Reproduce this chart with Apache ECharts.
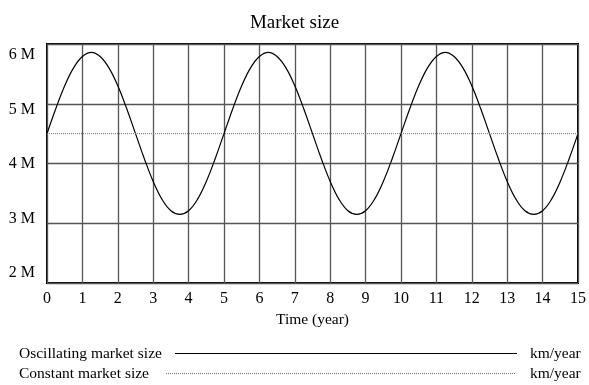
<!DOCTYPE html>
<html><head><meta charset="utf-8">
<script src="https://cdn.jsdelivr.net/npm/echarts@6/dist/echarts.min.js"></script>
<style>html,body{margin:0;padding:0;background:#fff}#c{width:589px;height:385px}</style>
</head><body><div id="c"></div>
<script>
const title = 'Market size';
const xName = 'Time (year)';
const yTicks = [2, 3, 4, 5, 6];
const times = [0,0.25,0.5,0.75,1,1.25,1.5,1.75,2,2.25,2.5,2.75,3,3.25,3.5,3.75,4,4.25,4.5,4.75,
  5,5.25,5.5,5.75,6,6.25,6.5,6.75,7,7.25,7.5,7.75,8,8.25,8.5,8.75,9,9.25,9.5,9.75,
  10,10.25,10.5,10.75,11,11.25,11.5,11.75,12,12.25,12.5,12.75,13,13.25,13.5,13.75,14,14.25,14.5,14.75,15];
const oscillating = [4.50,4.92,5.30,5.60,5.79,5.86,5.79,5.60,5.30,4.92,4.50,4.08,3.70,3.40,3.21,3.15,3.21,3.40,3.70,4.08,
  4.50,4.92,5.30,5.60,5.79,5.86,5.79,5.60,5.30,4.92,4.50,4.08,3.70,3.40,3.21,3.15,3.21,3.40,3.70,4.08,
  4.50,4.92,5.30,5.60,5.79,5.86,5.79,5.60,5.30,4.92,4.50,4.08,3.70,3.40,3.21,3.15,3.21,3.40,3.70,4.08,4.50];
const constantTimes = [0, 15];
const constant = [4.5, 4.5];
const legendNames = ['Oscillating market size', 'Constant market size'];
const unit = 'km/year';

const font = 'Liberation Serif, Times New Roman, serif';
const chart = echarts.init(document.getElementById('c'), null, {renderer: 'canvas'});
chart.setOption({
  animation: false,
  backgroundColor: '#fff',
  title: {text: title, left: 'center', top: 9, textStyle: {fontFamily: font, fontSize: 19, fontWeight: 'normal', color: '#000'}},
  grid: {left: 47, right: 9, top: 44, bottom: 102, show: true, borderColor: '#000', borderWidth: 2, backgroundColor: 'transparent'},
  xAxis: {type: 'value', min: 0, max: 15, interval: 1,
    name: xName, nameLocation: 'middle', nameGap: 23,
    nameTextStyle: {fontFamily: font, fontSize: 15.5, color: '#000', verticalAlign: 'top'},
    axisLine: {show: false}, axisTick: {show: false},
    axisLabel: {fontFamily: font, fontSize: 16, color: '#000', margin: 8},
    splitLine: {show: true, lineStyle: {color: '#555', width: 1.3}}},
  yAxis: [
    {type: 'value', min: 2, max: 6, interval: 1,
     axisLine: {show: false}, axisTick: {show: false}, axisLabel: {show: false},
     splitLine: {show: true, lineStyle: {color: '#555', width: 1.3}}},
    {type: 'value', min: 1.8165, max: 6.2, position: 'left',
     axisLine: {show: false}, axisTick: {show: false}, splitLine: {show: false},
     axisLabel: {customValues: yTicks, formatter: v => Math.round(v) + ' M', fontFamily: font, fontSize: 16, color: '#000', margin: 12}}
  ],
  series: [
    {type: 'line', name: legendNames[0], data: times.map((t, i) => [t, oscillating[i]]), smooth: 0.4,
     showSymbol: false, lineStyle: {color: '#000', width: 1.2}},
    {type: 'line', name: legendNames[1], data: constantTimes.map((t, i) => [t, constant[i]]),
     showSymbol: false, lineStyle: {color: '#777', width: 1, type: [1, 1]}}
  ],
  graphic: [
    {type: 'text', left: 19, top: 346, style: {text: legendNames[0], font: '15.5px ' + font, fill: '#000'}},
    {type: 'line', shape: {x1: 175, y1: 353.5, x2: 517, y2: 353.5}, style: {stroke: '#000', lineWidth: 1}},
    {type: 'text', left: 530, top: 346, style: {text: unit, font: '15.5px ' + font, fill: '#000'}},
    {type: 'text', left: 19, top: 366, style: {text: legendNames[1], font: '15.5px ' + font, fill: '#000'}},
    {type: 'line', shape: {x1: 166, y1: 373.5, x2: 516, y2: 373.5}, style: {stroke: '#777', lineWidth: 1, lineDash: [1, 1]}},
    {type: 'text', left: 530, top: 366, style: {text: unit, font: '15.5px ' + font, fill: '#000'}}
  ]
});
</script></body></html>
